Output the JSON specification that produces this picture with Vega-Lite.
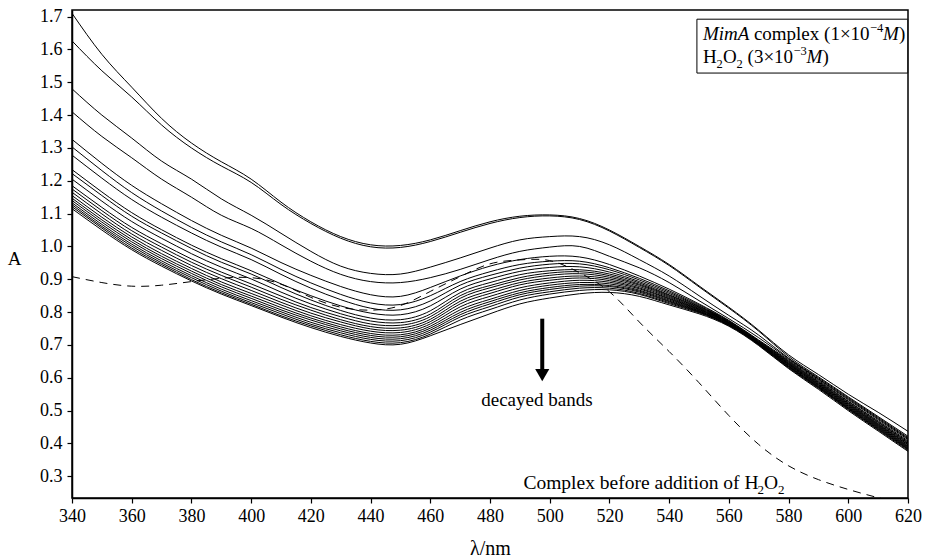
{
"$schema":"https://vega.github.io/schema/vega-lite/v6.json",
"width":836,"height":488,
"autosize":{"type":"none"},
"padding":{"left":72,"top":10,"right":17,"bottom":60},
"background":"white",
"config":{"font":"Liberation Serif","view":{"stroke":"black","strokeWidth":1.5},
"axis":{"domainColor":"black","domainWidth":1.5,"tickColor":"black","tickWidth":1.2,"tickSize":5,"labelColor":"black","labelFont":"Liberation Serif","labelFontSize":18,"titleFont":"Liberation Serif","titleFontWeight":"normal","titleColor":"black","grid":false}},
"datasets":{
"arrow":[{"x":497.5,"y":0.78,"y2":0.625}],
"head":[{"x":497.5,"y":0.608}],
"decay":[{"x":495.7,"y":0.515}],
"complexnote":[{"x":491.2,"y":0.261}],
"box":[{"x":549.3,"x2":619.9,"y":1.692,"y2":1.528}],
"line1":[{"x":551.3,"y":1.628}],
"line2":[{"x":551.3,"y":1.56}],
"spectra":[
{"s":1,"x":340,"y":1.71},{"s":1,"x":350,"y":1.585},{"s":1,"x":360,"y":1.485},{"s":1,"x":370,"y":1.39},{"s":1,"x":380,"y":1.315},{"s":1,"x":390,"y":1.258},{"s":1,"x":400,"y":1.205},{"s":1,"x":410,"y":1.135},{"s":1,"x":420,"y":1.075},{"s":1,"x":430,"y":1.03},{"s":1,"x":440,"y":1.005},{"s":1,"x":450,"y":1.003},{"s":1,"x":460,"y":1.02},{"s":1,"x":470,"y":1.048},{"s":1,"x":480,"y":1.075},{"s":1,"x":490,"y":1.092},{"s":1,"x":500,"y":1.096},{"s":1,"x":510,"y":1.085},{"s":1,"x":520,"y":1.05},{"s":1,"x":530,"y":1.0},{"s":1,"x":540,"y":0.945},{"s":1,"x":550,"y":0.88},{"s":1,"x":560,"y":0.815},{"s":1,"x":570,"y":0.745},{"s":1,"x":580,"y":0.67},{"s":1,"x":590,"y":0.61},{"s":1,"x":600,"y":0.55},{"s":1,"x":610,"y":0.495},{"s":1,"x":620,"y":0.437},
{"s":2,"x":340,"y":1.626},{"s":2,"x":350,"y":1.535},{"s":2,"x":360,"y":1.455},{"s":2,"x":370,"y":1.37},{"s":2,"x":380,"y":1.3},{"s":2,"x":390,"y":1.245},{"s":2,"x":400,"y":1.195},{"s":2,"x":410,"y":1.128},{"s":2,"x":420,"y":1.07},{"s":2,"x":430,"y":1.025},{"s":2,"x":440,"y":0.999},{"s":2,"x":450,"y":0.997},{"s":2,"x":460,"y":1.015},{"s":2,"x":470,"y":1.043},{"s":2,"x":480,"y":1.07},{"s":2,"x":490,"y":1.088},{"s":2,"x":500,"y":1.093},{"s":2,"x":510,"y":1.082},{"s":2,"x":520,"y":1.047},{"s":2,"x":530,"y":0.997},{"s":2,"x":540,"y":0.942},{"s":2,"x":550,"y":0.877},{"s":2,"x":560,"y":0.812},{"s":2,"x":570,"y":0.742},{"s":2,"x":580,"y":0.665},{"s":2,"x":590,"y":0.603},{"s":2,"x":600,"y":0.542},{"s":2,"x":610,"y":0.482},{"s":2,"x":620,"y":0.422},
{"s":3,"x":340,"y":1.48},{"s":3,"x":350,"y":1.4},{"s":3,"x":360,"y":1.33},{"s":3,"x":370,"y":1.26},{"s":3,"x":380,"y":1.205},{"s":3,"x":390,"y":1.145},{"s":3,"x":400,"y":1.095},{"s":3,"x":410,"y":1.04},{"s":3,"x":420,"y":0.985},{"s":3,"x":430,"y":0.94},{"s":3,"x":440,"y":0.918},{"s":3,"x":450,"y":0.916},{"s":3,"x":460,"y":0.937},{"s":3,"x":470,"y":0.965},{"s":3,"x":480,"y":0.995},{"s":3,"x":490,"y":1.02},{"s":3,"x":500,"y":1.03},{"s":3,"x":510,"y":1.03},{"s":3,"x":520,"y":1.005},{"s":3,"x":530,"y":0.96},{"s":3,"x":540,"y":0.91},{"s":3,"x":550,"y":0.85},{"s":3,"x":560,"y":0.79},{"s":3,"x":570,"y":0.73},{"s":3,"x":580,"y":0.66},{"s":3,"x":590,"y":0.6},{"s":3,"x":600,"y":0.539},{"s":3,"x":610,"y":0.479},{"s":3,"x":620,"y":0.418},
{"s":4,"x":340,"y":1.41},{"s":4,"x":350,"y":1.335},{"s":4,"x":360,"y":1.27},{"s":4,"x":370,"y":1.205},{"s":4,"x":380,"y":1.15},{"s":4,"x":390,"y":1.095},{"s":4,"x":400,"y":1.055},{"s":4,"x":410,"y":1.005},{"s":4,"x":420,"y":0.955},{"s":4,"x":430,"y":0.915},{"s":4,"x":440,"y":0.893},{"s":4,"x":450,"y":0.89},{"s":4,"x":460,"y":0.905},{"s":4,"x":470,"y":0.93},{"s":4,"x":480,"y":0.96},{"s":4,"x":490,"y":0.985},{"s":4,"x":500,"y":0.998},{"s":4,"x":510,"y":1.0},{"s":4,"x":520,"y":0.97},{"s":4,"x":530,"y":0.935},{"s":4,"x":540,"y":0.89},{"s":4,"x":550,"y":0.835},{"s":4,"x":560,"y":0.78},{"s":4,"x":570,"y":0.722},{"s":4,"x":580,"y":0.658},{"s":4,"x":590,"y":0.597},{"s":4,"x":600,"y":0.536},{"s":4,"x":610,"y":0.476},{"s":4,"x":620,"y":0.415},
{"s":5,"x":340,"y":1.326},{"s":5,"x":350,"y":1.253},{"s":5,"x":360,"y":1.186},{"s":5,"x":370,"y":1.13},{"s":5,"x":380,"y":1.079},{"s":5,"x":390,"y":1.034},{"s":5,"x":400,"y":0.995},{"s":5,"x":410,"y":0.951},{"s":5,"x":420,"y":0.912},{"s":5,"x":430,"y":0.878},{"s":5,"x":440,"y":0.853},{"s":5,"x":450,"y":0.848},{"s":5,"x":460,"y":0.875},{"s":5,"x":470,"y":0.91},{"s":5,"x":480,"y":0.94},{"s":5,"x":490,"y":0.96},{"s":5,"x":500,"y":0.97},{"s":5,"x":510,"y":0.968},{"s":5,"x":520,"y":0.945},{"s":5,"x":530,"y":0.91},{"s":5,"x":540,"y":0.87},{"s":5,"x":550,"y":0.825},{"s":5,"x":560,"y":0.775},{"s":5,"x":570,"y":0.715},{"s":5,"x":580,"y":0.655},{"s":5,"x":590,"y":0.595},{"s":5,"x":600,"y":0.533},{"s":5,"x":610,"y":0.473},{"s":5,"x":620,"y":0.412},
{"s":6,"x":340,"y":1.303},{"s":6,"x":350,"y":1.231},{"s":6,"x":360,"y":1.164},{"s":6,"x":370,"y":1.108},{"s":6,"x":380,"y":1.058},{"s":6,"x":390,"y":1.014},{"s":6,"x":400,"y":0.975},{"s":6,"x":410,"y":0.93},{"s":6,"x":420,"y":0.889},{"s":6,"x":430,"y":0.854},{"s":6,"x":440,"y":0.828},{"s":6,"x":450,"y":0.823},{"s":6,"x":460,"y":0.85},{"s":6,"x":470,"y":0.893},{"s":6,"x":480,"y":0.923},{"s":6,"x":490,"y":0.945},{"s":6,"x":500,"y":0.955},{"s":6,"x":510,"y":0.955},{"s":6,"x":520,"y":0.935},{"s":6,"x":530,"y":0.903},{"s":6,"x":540,"y":0.865},{"s":6,"x":550,"y":0.822},{"s":6,"x":560,"y":0.773},{"s":6,"x":570,"y":0.713},{"s":6,"x":580,"y":0.652},{"s":6,"x":590,"y":0.592},{"s":6,"x":600,"y":0.529},{"s":6,"x":610,"y":0.469},{"s":6,"x":620,"y":0.408},
{"s":7,"x":340,"y":1.278},{"s":7,"x":350,"y":1.208},{"s":7,"x":360,"y":1.143},{"s":7,"x":370,"y":1.089},{"s":7,"x":380,"y":1.041},{"s":7,"x":390,"y":0.998},{"s":7,"x":400,"y":0.96},{"s":7,"x":410,"y":0.915},{"s":7,"x":420,"y":0.873},{"s":7,"x":430,"y":0.838},{"s":7,"x":440,"y":0.812},{"s":7,"x":450,"y":0.807},{"s":7,"x":460,"y":0.834},{"s":7,"x":470,"y":0.882},{"s":7,"x":480,"y":0.912},{"s":7,"x":490,"y":0.934},{"s":7,"x":500,"y":0.946},{"s":7,"x":510,"y":0.947},{"s":7,"x":520,"y":0.929},{"s":7,"x":530,"y":0.898},{"s":7,"x":540,"y":0.861},{"s":7,"x":550,"y":0.819},{"s":7,"x":560,"y":0.772},{"s":7,"x":570,"y":0.712},{"s":7,"x":580,"y":0.65},{"s":7,"x":590,"y":0.589},{"s":7,"x":600,"y":0.527},{"s":7,"x":610,"y":0.466},{"s":7,"x":620,"y":0.405},
{"s":8,"x":340,"y":1.234},{"s":8,"x":350,"y":1.166},{"s":8,"x":360,"y":1.103},{"s":8,"x":370,"y":1.051},{"s":8,"x":380,"y":1.004},{"s":8,"x":390,"y":0.963},{"s":8,"x":400,"y":0.926},{"s":8,"x":410,"y":0.886},{"s":8,"x":420,"y":0.85},{"s":8,"x":430,"y":0.819},{"s":8,"x":440,"y":0.797},{"s":8,"x":450,"y":0.792},{"s":8,"x":460,"y":0.819},{"s":8,"x":470,"y":0.87},{"s":8,"x":480,"y":0.901},{"s":8,"x":490,"y":0.924},{"s":8,"x":500,"y":0.936},{"s":8,"x":510,"y":0.938},{"s":8,"x":520,"y":0.922},{"s":8,"x":530,"y":0.893},{"s":8,"x":540,"y":0.857},{"s":8,"x":550,"y":0.817},{"s":8,"x":560,"y":0.77},{"s":8,"x":570,"y":0.71},{"s":8,"x":580,"y":0.648},{"s":8,"x":590,"y":0.587},{"s":8,"x":600,"y":0.524},{"s":8,"x":610,"y":0.464},{"s":8,"x":620,"y":0.402},
{"s":9,"x":340,"y":1.222},{"s":9,"x":350,"y":1.155},{"s":9,"x":360,"y":1.092},{"s":9,"x":370,"y":1.041},{"s":9,"x":380,"y":0.994},{"s":9,"x":390,"y":0.952},{"s":9,"x":400,"y":0.916},{"s":9,"x":410,"y":0.875},{"s":9,"x":420,"y":0.837},{"s":9,"x":430,"y":0.805},{"s":9,"x":440,"y":0.782},{"s":9,"x":450,"y":0.777},{"s":9,"x":460,"y":0.804},{"s":9,"x":470,"y":0.859},{"s":9,"x":480,"y":0.89},{"s":9,"x":490,"y":0.914},{"s":9,"x":500,"y":0.926},{"s":9,"x":510,"y":0.929},{"s":9,"x":520,"y":0.916},{"s":9,"x":530,"y":0.889},{"s":9,"x":540,"y":0.853},{"s":9,"x":550,"y":0.815},{"s":9,"x":560,"y":0.769},{"s":9,"x":570,"y":0.709},{"s":9,"x":580,"y":0.646},{"s":9,"x":590,"y":0.585},{"s":9,"x":600,"y":0.522},{"s":9,"x":610,"y":0.461},{"s":9,"x":620,"y":0.4},
{"s":10,"x":340,"y":1.205},{"s":10,"x":350,"y":1.138},{"s":10,"x":360,"y":1.076},{"s":10,"x":370,"y":1.025},{"s":10,"x":380,"y":0.978},{"s":10,"x":390,"y":0.937},{"s":10,"x":400,"y":0.901},{"s":10,"x":410,"y":0.861},{"s":10,"x":420,"y":0.825},{"s":10,"x":430,"y":0.795},{"s":10,"x":440,"y":0.773},{"s":10,"x":450,"y":0.768},{"s":10,"x":460,"y":0.794},{"s":10,"x":470,"y":0.85},{"s":10,"x":480,"y":0.881},{"s":10,"x":490,"y":0.905},{"s":10,"x":500,"y":0.919},{"s":10,"x":510,"y":0.923},{"s":10,"x":520,"y":0.911},{"s":10,"x":530,"y":0.885},{"s":10,"x":540,"y":0.851},{"s":10,"x":550,"y":0.813},{"s":10,"x":560,"y":0.768},{"s":10,"x":570,"y":0.708},{"s":10,"x":580,"y":0.644},{"s":10,"x":590,"y":0.583},{"s":10,"x":600,"y":0.52},{"s":10,"x":610,"y":0.459},{"s":10,"x":620,"y":0.397},
{"s":11,"x":340,"y":1.185},{"s":11,"x":350,"y":1.119},{"s":11,"x":360,"y":1.058},{"s":11,"x":370,"y":1.008},{"s":11,"x":380,"y":0.962},{"s":11,"x":390,"y":0.922},{"s":11,"x":400,"y":0.886},{"s":11,"x":410,"y":0.849},{"s":11,"x":420,"y":0.814},{"s":11,"x":430,"y":0.786},{"s":11,"x":440,"y":0.764},{"s":11,"x":450,"y":0.76},{"s":11,"x":460,"y":0.786},{"s":11,"x":470,"y":0.842},{"s":11,"x":480,"y":0.874},{"s":11,"x":490,"y":0.898},{"s":11,"x":500,"y":0.912},{"s":11,"x":510,"y":0.917},{"s":11,"x":520,"y":0.906},{"s":11,"x":530,"y":0.882},{"s":11,"x":540,"y":0.848},{"s":11,"x":550,"y":0.811},{"s":11,"x":560,"y":0.767},{"s":11,"x":570,"y":0.707},{"s":11,"x":580,"y":0.643},{"s":11,"x":590,"y":0.581},{"s":11,"x":600,"y":0.518},{"s":11,"x":610,"y":0.457},{"s":11,"x":620,"y":0.396},
{"s":12,"x":340,"y":1.175},{"s":12,"x":350,"y":1.109},{"s":12,"x":360,"y":1.048},{"s":12,"x":370,"y":0.998},{"s":12,"x":380,"y":0.952},{"s":12,"x":390,"y":0.912},{"s":12,"x":400,"y":0.876},{"s":12,"x":410,"y":0.839},{"s":12,"x":420,"y":0.806},{"s":12,"x":430,"y":0.777},{"s":12,"x":440,"y":0.756},{"s":12,"x":450,"y":0.752},{"s":12,"x":460,"y":0.778},{"s":12,"x":470,"y":0.833},{"s":12,"x":480,"y":0.865},{"s":12,"x":490,"y":0.89},{"s":12,"x":500,"y":0.904},{"s":12,"x":510,"y":0.91},{"s":12,"x":520,"y":0.901},{"s":12,"x":530,"y":0.878},{"s":12,"x":540,"y":0.845},{"s":12,"x":550,"y":0.809},{"s":12,"x":560,"y":0.766},{"s":12,"x":570,"y":0.706},{"s":12,"x":580,"y":0.641},{"s":12,"x":590,"y":0.579},{"s":12,"x":600,"y":0.516},{"s":12,"x":610,"y":0.455},{"s":12,"x":620,"y":0.393},
{"s":13,"x":340,"y":1.165},{"s":13,"x":350,"y":1.099},{"s":13,"x":360,"y":1.038},{"s":13,"x":370,"y":0.988},{"s":13,"x":380,"y":0.942},{"s":13,"x":390,"y":0.902},{"s":13,"x":400,"y":0.866},{"s":13,"x":410,"y":0.83},{"s":13,"x":420,"y":0.797},{"s":13,"x":430,"y":0.77},{"s":13,"x":440,"y":0.749},{"s":13,"x":450,"y":0.745},{"s":13,"x":460,"y":0.771},{"s":13,"x":470,"y":0.825},{"s":13,"x":480,"y":0.857},{"s":13,"x":490,"y":0.883},{"s":13,"x":500,"y":0.897},{"s":13,"x":510,"y":0.904},{"s":13,"x":520,"y":0.896},{"s":13,"x":530,"y":0.874},{"s":13,"x":540,"y":0.842},{"s":13,"x":550,"y":0.808},{"s":13,"x":560,"y":0.765},{"s":13,"x":570,"y":0.705},{"s":13,"x":580,"y":0.64},{"s":13,"x":590,"y":0.578},{"s":13,"x":600,"y":0.514},{"s":13,"x":610,"y":0.453},{"s":13,"x":620,"y":0.391},
{"s":14,"x":340,"y":1.155},{"s":14,"x":350,"y":1.089},{"s":14,"x":360,"y":1.029},{"s":14,"x":370,"y":0.978},{"s":14,"x":380,"y":0.933},{"s":14,"x":390,"y":0.892},{"s":14,"x":400,"y":0.857},{"s":14,"x":410,"y":0.822},{"s":14,"x":420,"y":0.789},{"s":14,"x":430,"y":0.762},{"s":14,"x":440,"y":0.742},{"s":14,"x":450,"y":0.738},{"s":14,"x":460,"y":0.764},{"s":14,"x":470,"y":0.816},{"s":14,"x":480,"y":0.848},{"s":14,"x":490,"y":0.874},{"s":14,"x":500,"y":0.889},{"s":14,"x":510,"y":0.897},{"s":14,"x":520,"y":0.891},{"s":14,"x":530,"y":0.871},{"s":14,"x":540,"y":0.84},{"s":14,"x":550,"y":0.806},{"s":14,"x":560,"y":0.764},{"s":14,"x":570,"y":0.704},{"s":14,"x":580,"y":0.638},{"s":14,"x":590,"y":0.576},{"s":14,"x":600,"y":0.512},{"s":14,"x":610,"y":0.451},{"s":14,"x":620,"y":0.389},
{"s":15,"x":340,"y":1.147},{"s":15,"x":350,"y":1.081},{"s":15,"x":360,"y":1.021},{"s":15,"x":370,"y":0.97},{"s":15,"x":380,"y":0.925},{"s":15,"x":390,"y":0.884},{"s":15,"x":400,"y":0.849},{"s":15,"x":410,"y":0.814},{"s":15,"x":420,"y":0.782},{"s":15,"x":430,"y":0.755},{"s":15,"x":440,"y":0.735},{"s":15,"x":450,"y":0.731},{"s":15,"x":460,"y":0.757},{"s":15,"x":470,"y":0.807},{"s":15,"x":480,"y":0.839},{"s":15,"x":490,"y":0.866},{"s":15,"x":500,"y":0.882},{"s":15,"x":510,"y":0.89},{"s":15,"x":520,"y":0.886},{"s":15,"x":530,"y":0.867},{"s":15,"x":540,"y":0.837},{"s":15,"x":550,"y":0.804},{"s":15,"x":560,"y":0.762},{"s":15,"x":570,"y":0.703},{"s":15,"x":580,"y":0.636},{"s":15,"x":590,"y":0.574},{"s":15,"x":600,"y":0.51},{"s":15,"x":610,"y":0.449},{"s":15,"x":620,"y":0.387},
{"s":16,"x":340,"y":1.14},{"s":16,"x":350,"y":1.074},{"s":16,"x":360,"y":1.014},{"s":16,"x":370,"y":0.963},{"s":16,"x":380,"y":0.918},{"s":16,"x":390,"y":0.877},{"s":16,"x":400,"y":0.842},{"s":16,"x":410,"y":0.807},{"s":16,"x":420,"y":0.776},{"s":16,"x":430,"y":0.749},{"s":16,"x":440,"y":0.729},{"s":16,"x":450,"y":0.725},{"s":16,"x":460,"y":0.751},{"s":16,"x":470,"y":0.799},{"s":16,"x":480,"y":0.832},{"s":16,"x":490,"y":0.859},{"s":16,"x":500,"y":0.875},{"s":16,"x":510,"y":0.884},{"s":16,"x":520,"y":0.881},{"s":16,"x":530,"y":0.864},{"s":16,"x":540,"y":0.834},{"s":16,"x":550,"y":0.803},{"s":16,"x":560,"y":0.762},{"s":16,"x":570,"y":0.702},{"s":16,"x":580,"y":0.635},{"s":16,"x":590,"y":0.573},{"s":16,"x":600,"y":0.508},{"s":16,"x":610,"y":0.447},{"s":16,"x":620,"y":0.385},
{"s":17,"x":340,"y":1.133},{"s":17,"x":350,"y":1.067},{"s":17,"x":360,"y":1.007},{"s":17,"x":370,"y":0.956},{"s":17,"x":380,"y":0.911},{"s":17,"x":390,"y":0.87},{"s":17,"x":400,"y":0.835},{"s":17,"x":410,"y":0.801},{"s":17,"x":420,"y":0.769},{"s":17,"x":430,"y":0.743},{"s":17,"x":440,"y":0.723},{"s":17,"x":450,"y":0.719},{"s":17,"x":460,"y":0.745},{"s":17,"x":470,"y":0.792},{"s":17,"x":480,"y":0.825},{"s":17,"x":490,"y":0.853},{"s":17,"x":500,"y":0.869},{"s":17,"x":510,"y":0.879},{"s":17,"x":520,"y":0.878},{"s":17,"x":530,"y":0.861},{"s":17,"x":540,"y":0.832},{"s":17,"x":550,"y":0.801},{"s":17,"x":560,"y":0.761},{"s":17,"x":570,"y":0.702},{"s":17,"x":580,"y":0.634},{"s":17,"x":590,"y":0.571},{"s":17,"x":600,"y":0.507},{"s":17,"x":610,"y":0.445},{"s":17,"x":620,"y":0.383},
{"s":18,"x":340,"y":1.127},{"s":18,"x":350,"y":1.061},{"s":18,"x":360,"y":1.001},{"s":18,"x":370,"y":0.95},{"s":18,"x":380,"y":0.905},{"s":18,"x":390,"y":0.864},{"s":18,"x":400,"y":0.829},{"s":18,"x":410,"y":0.795},{"s":18,"x":420,"y":0.763},{"s":18,"x":430,"y":0.737},{"s":18,"x":440,"y":0.717},{"s":18,"x":450,"y":0.713},{"s":18,"x":460,"y":0.739},{"s":18,"x":470,"y":0.785},{"s":18,"x":480,"y":0.817},{"s":18,"x":490,"y":0.846},{"s":18,"x":500,"y":0.862},{"s":18,"x":510,"y":0.873},{"s":18,"x":520,"y":0.873},{"s":18,"x":530,"y":0.857},{"s":18,"x":540,"y":0.829},{"s":18,"x":550,"y":0.8},{"s":18,"x":560,"y":0.76},{"s":18,"x":570,"y":0.701},{"s":18,"x":580,"y":0.632},{"s":18,"x":590,"y":0.57},{"s":18,"x":600,"y":0.505},{"s":18,"x":610,"y":0.443},{"s":18,"x":620,"y":0.382},
{"s":19,"x":340,"y":1.121},{"s":19,"x":350,"y":1.056},{"s":19,"x":360,"y":0.995},{"s":19,"x":370,"y":0.945},{"s":19,"x":380,"y":0.899},{"s":19,"x":390,"y":0.859},{"s":19,"x":400,"y":0.824},{"s":19,"x":410,"y":0.789},{"s":19,"x":420,"y":0.758},{"s":19,"x":430,"y":0.731},{"s":19,"x":440,"y":0.711},{"s":19,"x":450,"y":0.707},{"s":19,"x":460,"y":0.733},{"s":19,"x":470,"y":0.776},{"s":19,"x":480,"y":0.808},{"s":19,"x":490,"y":0.837},{"s":19,"x":500,"y":0.855},{"s":19,"x":510,"y":0.866},{"s":19,"x":520,"y":0.868},{"s":19,"x":530,"y":0.854},{"s":19,"x":540,"y":0.826},{"s":19,"x":550,"y":0.798},{"s":19,"x":560,"y":0.759},{"s":19,"x":570,"y":0.7},{"s":19,"x":580,"y":0.63},{"s":19,"x":590,"y":0.568},{"s":19,"x":600,"y":0.503},{"s":19,"x":610,"y":0.441},{"s":19,"x":620,"y":0.379},
{"s":20,"x":340,"y":1.115},{"s":20,"x":350,"y":1.05},{"s":20,"x":360,"y":0.99},{"s":20,"x":370,"y":0.94},{"s":20,"x":380,"y":0.895},{"s":20,"x":390,"y":0.855},{"s":20,"x":400,"y":0.82},{"s":20,"x":410,"y":0.785},{"s":20,"x":420,"y":0.753},{"s":20,"x":430,"y":0.726},{"s":20,"x":440,"y":0.706},{"s":20,"x":450,"y":0.702},{"s":20,"x":460,"y":0.728},{"s":20,"x":470,"y":0.762},{"s":20,"x":480,"y":0.795},{"s":20,"x":490,"y":0.825},{"s":20,"x":500,"y":0.843},{"s":20,"x":510,"y":0.856},{"s":20,"x":520,"y":0.86},{"s":20,"x":530,"y":0.848},{"s":20,"x":540,"y":0.822},{"s":20,"x":550,"y":0.795},{"s":20,"x":560,"y":0.757},{"s":20,"x":570,"y":0.698},{"s":20,"x":580,"y":0.628},{"s":20,"x":590,"y":0.565},{"s":20,"x":600,"y":0.5},{"s":20,"x":610,"y":0.438},{"s":20,"x":620,"y":0.376}
],
"before":[
{"x":340,"y":0.908},{"x":350,"y":0.89},{"x":360,"y":0.879},{"x":370,"y":0.882},{"x":380,"y":0.893},{"x":390,"y":0.903},{"x":400,"y":0.905},{"x":410,"y":0.885},{"x":420,"y":0.845},{"x":430,"y":0.815},{"x":440,"y":0.806},{"x":450,"y":0.82},{"x":460,"y":0.863},{"x":470,"y":0.908},{"x":480,"y":0.947},{"x":490,"y":0.959},{"x":500,"y":0.957},{"x":510,"y":0.92},{"x":520,"y":0.862},{"x":530,"y":0.77},{"x":540,"y":0.68},{"x":550,"y":0.585},{"x":560,"y":0.485},{"x":570,"y":0.397},{"x":580,"y":0.332},{"x":590,"y":0.29},{"x":600,"y":0.26},{"x":610,"y":0.235},{"x":620,"y":0.213}
]},
"encoding":{
  "x":{"field":"x","type":"quantitative","scale":{"domain":[340,620],"nice":false,"zero":false},
   "axis":{"values":[340,360,380,400,420,440,460,480,500,520,540,560,580,600,620],"title":"λ/nm","titleFontSize":20,"titleX":418,"titleY":56,"titleAlign":"center","titleBaseline":"alphabetic","labelPadding":4,"labelFlush":false,"labelOverlap":false}},
  "y":{"field":"y","type":"quantitative","scale":{"domain":[0.234,1.72],"nice":false,"zero":false},
   "axis":{"values":[0.3,0.4,0.5,0.6,0.7,0.8,0.9,1.0,1.1,1.2,1.3,1.4,1.5,1.6,1.7],"format":".1f","title":"A","titleAngle":0,"titleFontSize":19,"titleX":-58,"titleY":248,"titleAlign":"center","titleBaseline":"middle","labelPadding":5,"labelOverlap":false,"labelFlush":false}}},
"layer":[
{"data":{"name":"spectra"},
 "mark":{"type":"line","color":"black","strokeWidth":1,"interpolate":"natural","clip":true},
 "encoding":{"detail":{"field":"s","type":"nominal"}}},
{"data":{"name":"before"},
 "mark":{"type":"line","color":"black","strokeWidth":1,"strokeDash":[8,6],"interpolate":"natural","clip":true},
 "encoding":{}},
{"data":{"name":"arrow"},"mark":{"type":"rule","color":"black","strokeWidth":4},
 "encoding":{"y2":{"field":"y2"}}},
{"data":{"name":"head"},"mark":{"type":"point","shape":"triangle-down","filled":true,"color":"black","opacity":1,"size":200}},
{"data":{"name":"decay"},"mark":{"type":"text","fontSize":19,"align":"center","baseline":"alphabetic","color":"black","text":"decayed bands"}},
{"data":{"name":"complexnote"},"mark":{"type":"text","fontSize":19.5,"align":"left","baseline":"alphabetic","color":"black","text":"Complex before addition of H"}},
{"data":{"name":"complexnote"},"mark":{"type":"text","fontSize":13,"align":"left","baseline":"alphabetic","color":"black","dx":234,"dy":5,"text":"2"}},
{"data":{"name":"complexnote"},"mark":{"type":"text","fontSize":19.5,"align":"left","baseline":"alphabetic","color":"black","dx":240.5,"text":"O"}},
{"data":{"name":"complexnote"},"mark":{"type":"text","fontSize":13,"align":"left","baseline":"alphabetic","color":"black","dx":254.5,"dy":5,"text":"2"}},
{"data":{"name":"box"},"mark":{"type":"rect","fill":"white","stroke":"black","strokeWidth":1},
 "encoding":{"x2":{"field":"x2"},"y2":{"field":"y2"}}},
{"data":{"name":"line1"},"mark":{"type":"text","fontSize":19,"align":"left","baseline":"alphabetic","color":"black","fontStyle":"italic","text":"MimA"}},
{"data":{"name":"line1"},"mark":{"type":"text","fontSize":19,"align":"left","baseline":"alphabetic","color":"black","dx":51,"text":"complex (1×10"}},
{"data":{"name":"line1"},"mark":{"type":"text","fontSize":12.5,"align":"left","baseline":"alphabetic","color":"black","dx":167,"dy":-8,"text":"−4"}},
{"data":{"name":"line1"},"mark":{"type":"text","fontSize":19,"align":"left","baseline":"alphabetic","color":"black","fontStyle":"italic","dx":180,"text":"M"}},
{"data":{"name":"line1"},"mark":{"type":"text","fontSize":19,"align":"left","baseline":"alphabetic","color":"black","dx":196,"text":")"}},
{"data":{"name":"line2"},"mark":{"type":"text","fontSize":19,"align":"left","baseline":"alphabetic","color":"black","text":"H"}},
{"data":{"name":"line2"},"mark":{"type":"text","fontSize":12.5,"align":"left","baseline":"alphabetic","color":"black","dx":13.7,"dy":5,"text":"2"}},
{"data":{"name":"line2"},"mark":{"type":"text","fontSize":19,"align":"left","baseline":"alphabetic","color":"black","dx":20,"text":"O"}},
{"data":{"name":"line2"},"mark":{"type":"text","fontSize":12.5,"align":"left","baseline":"alphabetic","color":"black","dx":33.7,"dy":5,"text":"2"}},
{"data":{"name":"line2"},"mark":{"type":"text","fontSize":19,"align":"left","baseline":"alphabetic","color":"black","dx":44.7,"text":"(3×10"}},
{"data":{"name":"line2"},"mark":{"type":"text","fontSize":12.5,"align":"left","baseline":"alphabetic","color":"black","dx":90.5,"dy":-8,"text":"−3"}},
{"data":{"name":"line2"},"mark":{"type":"text","fontSize":19,"align":"left","baseline":"alphabetic","color":"black","fontStyle":"italic","dx":103.5,"text":"M"}},
{"data":{"name":"line2"},"mark":{"type":"text","fontSize":19,"align":"left","baseline":"alphabetic","color":"black","dx":119.5,"text":")"}}
]
}
